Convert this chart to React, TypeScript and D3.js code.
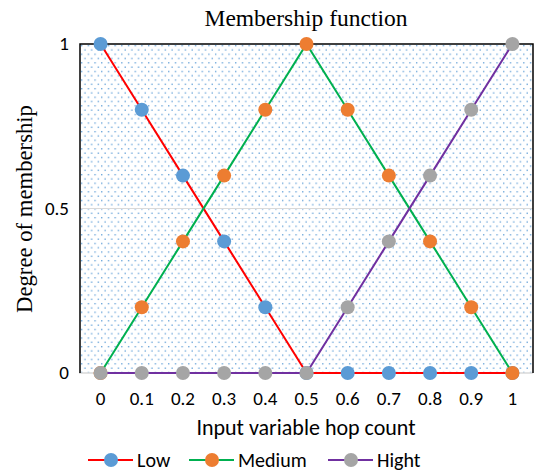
import React, { useEffect, useRef } from 'react';
import * as d3 from 'd3';

const xCats = ['0', '0.1', '0.2', '0.3', '0.4', '0.5', '0.6', '0.7', '0.8', '0.9', '1'];
const lowVals = [1, 0.8, 0.6, 0.4, 0.2, 0, 0, 0, 0, 0, 0];
const mediumVals = [0, 0.2, 0.4, 0.6, 0.8, 1, 0.8, 0.6, 0.4, 0.2, 0];
const highVals = [0, 0, 0, 0, 0, 0, 0.2, 0.4, 0.6, 0.8, 1];
const yTicks = [0, 0.5, 1];

const seriesList = [
  { name: 'Low', values: lowVals, line: '#ff0000', marker: '#5b9bd5' },
  { name: 'Medium', values: mediumVals, line: '#00b050', marker: '#ed7d31' },
  { name: 'Hight', values: highVals, line: '#7030a0', marker: '#a5a5a5' },
];

const W = 534;
const H = 472;
const sans = 'Carlito, Calibri, "Liberation Sans", sans-serif';
const serif = '"Liberation Serif", "Times New Roman", serif';

const App = () => {
  const ref = useRef<SVGSVGElement>(null);

  useEffect(() => {
    if (!ref.current) return;
    const svg = d3.select(ref.current);
    svg.selectAll('*').remove();

    const left = 80, right = 533, top = 44, bottom = 373;

    const x = d3.scalePoint<string>().domain(xCats).range([left, right]).padding(0.5);
    const y = d3.scaleLinear().domain([0, 1]).range([bottom, top]);

    // dotted plot-area fill
    const defs = svg.append('defs');
    const pat = defs.append('pattern')
      .attr('id', 'dots')
      .attr('patternUnits', 'userSpaceOnUse')
      .attr('x', left).attr('y', top)
      .attr('width', 6.7)
      .attr('height', 8.6);
    pat.append('rect').attr('x', 1).attr('y', 1).attr('width', 1.3).attr('height', 1.3).attr('fill', '#5b9bd5');
    pat.append('rect').attr('x', 4.35).attr('y', 5.3).attr('width', 1.3).attr('height', 1.3).attr('fill', '#5b9bd5');

    svg.append('rect')
      .attr('x', left).attr('y', top)
      .attr('width', right - left).attr('height', bottom - top)
      .attr('fill', 'url(#dots)');

    // gridline at 0.5
    svg.append('line')
      .attr('x1', left).attr('x2', right)
      .attr('y1', y(0.5)).attr('y2', y(0.5))
      .attr('stroke', '#d9d9d9').attr('stroke-width', 1.2);

    // bottom axis line
    svg.append('line')
      .attr('x1', left - 1).attr('x2', right)
      .attr('y1', y(0)).attr('y2', y(0))
      .attr('stroke', '#d9d9d9').attr('stroke-width', 1.5);

    // border top/left/right
    svg.append('path')
      .attr('d', `M${left},${bottom}V${top}H${right}V${bottom}`)
      .attr('fill', 'none')
      .attr('stroke', '#000').attr('stroke-width', 1.5);

    // y tick labels
    svg.append('g').selectAll('text')
      .data(yTicks)
      .join('text')
      .attr('x', 69)
      .attr('y', d => y(d) + 6)
      .attr('text-anchor', 'end')
      .attr('font-family', sans)
      .attr('font-size', 19)
      .text(d => String(d));

    // x tick labels
    svg.append('g').selectAll('text')
      .data(xCats)
      .join('text')
      .attr('x', d => x(d)!)
      .attr('y', 405)
      .attr('text-anchor', 'middle')
      .attr('font-family', sans)
      .attr('font-size', 19)
      .text(d => d);

    const line = d3.line<number>()
      .x((_, i) => x(xCats[i])!)
      .y(d => y(d));

    seriesList.forEach(s => {
      svg.append('path')
        .datum(s.values)
        .attr('fill', 'none')
        .attr('stroke', s.line)
        .attr('stroke-width', 2)
        .attr('d', line);
      svg.append('g').selectAll('circle')
        .data(s.values)
        .join('circle')
        .attr('cx', (_, i) => x(xCats[i])!)
        .attr('cy', d => y(d))
        .attr('r', 7)
        .attr('fill', s.marker);
    });

    // title
    svg.append('text')
      .attr('x', 306).attr('y', 26)
      .attr('text-anchor', 'middle')
      .attr('font-family', serif)
      .attr('font-size', 23.5)
      .text('Membership function');

    // y label
    svg.append('text')
      .attr('transform', `translate(32,209) rotate(-90)`)
      .attr('text-anchor', 'middle')
      .attr('font-family', serif)
      .attr('font-size', 22.7)
      .text('Degree of membership');

    // x label
    svg.append('text')
      .attr('x', 306).attr('y', 435)
      .attr('text-anchor', 'middle')
      .attr('font-family', sans)
      .attr('font-size', 22)
      .text('Input variable hop count');

    // legend
    const legendX = [88, 189, 328];
    const lg = svg.append('g');
    seriesList.forEach((s, i) => {
      const g = lg.append('g').attr('transform', `translate(${legendX[i]},460)`);
      g.append('line').attr('x1', 0).attr('x2', 45).attr('stroke', s.line).attr('stroke-width', 2);
      g.append('circle').attr('cx', 23).attr('r', 7).attr('fill', s.marker);
      g.append('text')
        .attr('x', 49).attr('y', 6.5)
        .attr('font-family', sans)
        .attr('font-size', 20)
        .text(s.name);
    });
  }, []);

  return (
    <svg
      ref={ref}
      width={W}
      height={H}
      style={{ position: 'absolute', left: 0, top: 0, background: '#fff' }}
    />
  );
};

export default App;
